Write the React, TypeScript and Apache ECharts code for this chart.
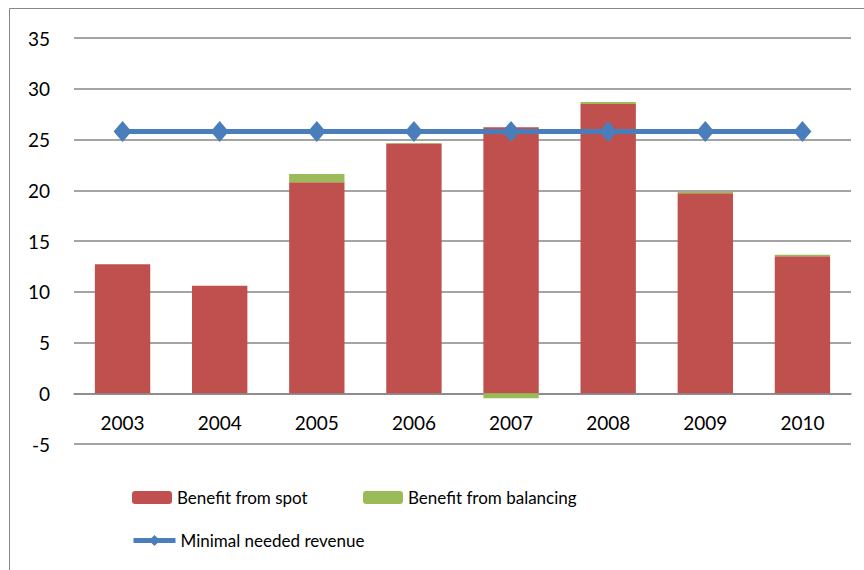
import React, { useEffect, useRef } from "react";
import * as echarts from "echarts";

const years = ["2003", "2004", "2005", "2006", "2007", "2008", "2009", "2010"];
const spot = [12.7, 10.6, 20.8, 24.6, 26.2, 28.5, 19.7, 13.5];
const balancing = [0, 0, 0.8, 0.05, -0.5, 0.2, 0.15, 0.15];
const minimalRevenue = [25.8, 25.8, 25.8, 25.8, 25.8, 25.8, 25.8, 25.8];

const FONT = "Lato";

export default function App() {
  const ref = useRef<HTMLDivElement>(null);
  useEffect(() => {
    const chart = echarts.init(ref.current!, null, { renderer: "svg" });
    const legendText = { fontFamily: FONT, fontSize: 17, color: "#000" };
    const gridTop = 38;
    const gridBottom = 126;
    const plotH = 570 - gridTop - gridBottom;
    const unit = plotH / 40;
    chart.setOption({
      animation: false,
      backgroundColor: "#fff",
      graphic: [
        {
          type: "rect",
          shape: { x: 9.5, y: 8.5, width: 880, height: 600 },
          style: { fill: "none", stroke: "#868686", lineWidth: 1 },
          silent: true,
        },
      ],
      grid: { left: 74, right: 13, top: gridTop, bottom: gridBottom },
      legend: [
        {
          data: ["Benefit from spot"],
          left: 127,
          top: 484,
          itemWidth: 40,
          itemHeight: 13,
          itemGap: 4,
          textStyle: legendText,
        },
        {
          data: ["Benefit from balancing"],
          left: 358,
          top: 484,
          itemWidth: 40,
          itemHeight: 13,
          textStyle: legendText,
        },
        {
          data: ["Minimal needed revenue"],
          left: 126,
          top: 527,
          itemWidth: 42,
          itemHeight: 14,
          lineStyle: { width: 5 },
          textStyle: legendText,
        },
      ],
      xAxis: {
        type: "category",
        data: years,
        offset: -5 * unit,
        axisLine: { onZero: false, lineStyle: { color: "#868686", width: 1.5 } },
        axisTick: { show: false },
        axisLabel: { fontFamily: FONT, fontSize: 19, color: "#000", margin: 20 },
      },
      yAxis: {
        type: "value",
        min: -5,
        max: 35,
        interval: 5,
        axisLine: { show: false },
        axisTick: { show: false },
        axisLabel: { fontFamily: FONT, fontSize: 19, color: "#000", margin: 24 },
        splitLine: { lineStyle: { color: "#868686", width: 1.5 } },
      },
      series: [
        {
          name: "Benefit from spot",
          type: "bar",
          stack: "b",
          data: spot,
          barWidth: "57%",
          itemStyle: { color: "#c0504d" },
        },
        {
          name: "Benefit from balancing",
          type: "bar",
          stack: "b",
          data: balancing,
          barWidth: "57%",
          itemStyle: { color: "#9bbb59" },
        },
        {
          name: "Minimal needed revenue",
          type: "line",
          data: minimalRevenue,
          lineStyle: { color: "#4a7ebb", width: 5 },
          itemStyle: { color: "#4a7ebb" },
          symbol: "diamond",
          symbolSize: [18, 21],
          z: 5,
        },
      ],
    });
    return () => chart.dispose();
  }, []);
  return (
    <div
      ref={ref}
      style={{ position: "fixed", left: 0, top: 0, width: 864, height: 570 }}
    />
  );
}
